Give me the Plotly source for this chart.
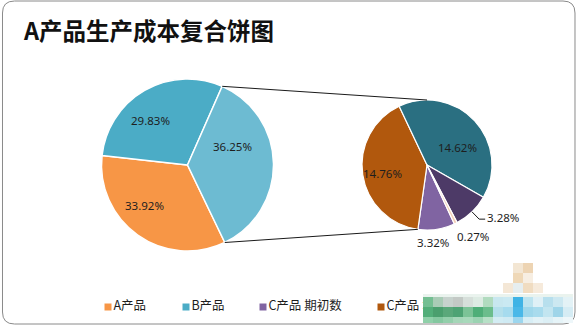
import math
import plotly.graph_objects as go

W, H = 577, 327

# ---- chart data ----
title_text = "A产品生产成本复合饼图"

main_labels = ["A产品", "B产品", "C产品"]
main_values = [33.92, 29.83, 36.25]

sub_labels = ["C产品 期初数", "C产品 本期数", "C产品 完工数", "C产品 期末数", "C产品 其他"]
sub_values = [3.32, 14.76, 14.62, 3.28, 0.27]

# ---- styling / layout ----
main_colors = ["#F79646", "#4BACC6", "#6DBBD2"]
sub_colors = ["#8064A2", "#B1580D", "#2A6F81", "#4D3A67", "#F3CDB5"]

main_c, main_r, main_rot = (187.5, 165.0), 86.0, 154.3
sub_c, sub_r, sub_rot = (427.0, 165.0), 65.0, 155.1

# data-label placement: (angle clockwise from 12 o'clock, radius fraction)
main_label_pos = [(226.7, 0.68), (320.2, 0.68), (67.3, 0.57)]
sub_label_pos = [(175.6, 1.20), (259.7, 0.69), (60.0, 0.55), (124.4, 1.42), (147.4, 1.31)]
sub_leader = [False, False, False, True, False]

FONT = "Noto Sans, Noto Sans CJK SC, sans-serif"
CJK = "Noto Sans CJK SC, Noto Sans, sans-serif"
LABEL_SIZE = 11.5


def px(x, y):
    """pixel position -> paper coordinates (margins are zero)"""
    return x / W, 1 - y / H


def domain(c, r):
    return dict(x=[(c[0] - r) / W, (c[0] + r) / W],
                y=[1 - (c[1] + r) / H, 1 - (c[1] - r) / H])


def on_circle(c, r, ang):
    a = math.radians(ang)
    return c[0] + r * math.sin(a), c[1] - r * math.cos(a)


fig = go.Figure()

fig.add_trace(go.Pie(
    labels=main_labels, values=main_values, sort=False, direction="clockwise",
    rotation=main_rot, domain=domain(main_c, main_r),
    marker=dict(colors=main_colors, line=dict(color="white", width=1.5)),
    textinfo="none", showlegend=False, hoverinfo="label+value",
))

fig.add_trace(go.Pie(
    labels=sub_labels, values=sub_values, sort=False, direction="clockwise",
    rotation=sub_rot, domain=domain(sub_c, sub_r),
    marker=dict(colors=sub_colors, line=dict(color="white", width=1.2)),
    textinfo="none", showlegend=False, hoverinfo="label+value",
))

shapes = []
annotations = []


# value labels
def add_labels(values, c, r, rot, positions, leaders):
    tot = sum(values)
    start = rot
    for v, (ang, frac), lead in zip(values, positions, leaders):
        mid = start + 180 * v / tot
        lx, ly = on_circle(c, r * frac, ang)
        ax, ay = px(lx, ly)
        annotations.append(dict(text=f"{v:.2f}%", x=ax, y=ay, xref="paper", yref="paper",
                                xanchor="center", yanchor="middle", showarrow=False,
                                font=dict(family=FONT, size=LABEL_SIZE, color="#1E1E1E")))
        if lead:
            sx, sy = on_circle(c, r, mid)
            ex, ey = lx - 18, ly + 2
            kx, ky = ex - 6, ey
            path = "M{} L{} L{}".format(*["{:.5f},{:.5f}".format(*px(a, b))
                                          for a, b in [(sx, sy), (kx, ky), (ex, ey)]])
            shapes.append(dict(type="path", xref="paper", yref="paper", path=path,
                               line=dict(color="#1A1A1A", width=1)))
        start += 360 * v / tot


add_labels(main_values, main_c, main_r, main_rot, main_label_pos, [False] * 3)
add_labels(sub_values, sub_c, sub_r, sub_rot, sub_label_pos, sub_leader)

# connector lines from the edges of the combined slice to the secondary pie
tot_main = sum(main_values)
ang_top = main_rot + 360 * sum(main_values[:-1]) / tot_main
ang_bot = main_rot
p_top = on_circle(main_c, main_r, ang_top)
p_bot = on_circle(main_c, main_r, ang_bot)
q_top = on_circle(sub_c, sub_r, 0)
q_bot = on_circle(sub_c, sub_r, sub_rot + 360 * sub_values[0] / sum(sub_values))
for a, b in [(p_top, q_top), (p_bot, q_bot)]:
    x0, y0 = px(*a)
    x1, y1 = px(*b)
    shapes.append(dict(type="line", xref="paper", yref="paper",
                       x0=x0, y0=y0, x1=x1, y1=y1,
                       line=dict(color="#1A1A1A", width=1)))

# rounded chart frame
fx0, fy0, fx1, fy1, rad = 2.5, 1.0, 575.0, 324.0, 12.0


def P(x, y):
    u, v = px(x, y)
    return f"{u:.5f},{v:.5f}"


frame_path = (f"M{P(fx0 + rad, fy0)} L{P(fx1 - rad, fy0)} Q{P(fx1, fy0)} {P(fx1, fy0 + rad)} "
              f"L{P(fx1, fy1 - rad)} Q{P(fx1, fy1)} {P(fx1 - rad, fy1)} "
              f"L{P(fx0 + rad, fy1)} Q{P(fx0, fy1)} {P(fx0, fy1 - rad)} "
              f"L{P(fx0, fy0 + rad)} Q{P(fx0, fy0)} {P(fx0 + rad, fy0)} Z")
shapes.append(dict(type="path", xref="paper", yref="paper", path=frame_path,
                   line=dict(color="#8A8A8A", width=1), layer="below"))

# title
tx, ty = px(21, 30)
annotations.append(dict(text=f"<b>{title_text}</b>", x=tx, y=ty, xref="paper", yref="paper",
                        xanchor="left", yanchor="middle", showarrow=False,
                        font=dict(family=CJK, size=23.5, color="#111111")))

# legend (first four entries) as a marker+text trace on a pixel-scaled overlay axis,
# so that the overlay shapes can sit on top of it
legend_items = [(main_labels[0], main_colors[0]), (main_labels[1], main_colors[1]),
                (sub_labels[0], sub_colors[0]), (sub_labels[1], sub_colors[1])]
legend_x = [108, 186, 263, 381]
legend_y = 307
fig.add_trace(go.Scatter(
    x=legend_x, y=[legend_y] * len(legend_x),
    mode="markers+text",
    text=[lab for lab, _ in legend_items], textposition="middle right",
    textfont=dict(family=CJK, size=12.5, color="#1E1E1E"),
    marker=dict(symbol="square", size=7, color=[col for _, col in legend_items],
                line=dict(width=0)),
    showlegend=False, hoverinfo="skip", cliponaxis=False,
))

# pixelated overlay in the lower right corner
mosaic_rows = [
    (263, 10, 513, ["#F3E6D3", "#EDD4B3"]),
    (273, 10, 513, ["#EFD8B7", "#F7EEE2"]),
    (283, 10, 503, ["#F4E7D6", "#E6EEF0", "#F0DCC1", "#F6EADB"]),
    (294, 3, 423, ["#EAF3EE"] * 15),
    (297, 10, 423, ["#74BF92", "#A9CCB6", "#C7D2CD", "#C3C9C5", "#D6DFDA", "#DDEBE3",
                    "#B1DBBF", "#C8E7EF", "#CAE9F2", "#3FB3E5", "#BCE3EF", "#DFF0F6",
                    "#B7DFED", "#CCE8F1", "#E3F2F6"]),
    (307, 10, 423, ["#52AE79", "#4A9F6E", "#5AA87A", "#4EA374", "#7CC397", "#4FAE78",
                    "#6BBD8C", "#B4DFEB", "#A6DBEE", "#4AB8E8", "#9ED7EB", "#A8DBED",
                    "#C2E5F0", "#9FD5E9", "#D5ECF4"]),
    (317, 6, 423, ["#8FD0A9", "#84C8A0", "#93CFAB", "#A5D6B8", "#A8D9BB", "#9BD3B2",
                   "#B7E0C7", "#D3ECF3", "#CFEAF3", "#9CD6EE", "#D8EEF5", "#E2F2F7",
                   "#DCEFF5", "#E6F4F8", "#EEF7FA"]),
]
for y, h, x_start, cols in mosaic_rows:
    for i, col in enumerate(cols):
        x0, y0 = px(x_start + 10 * i, y + h)
        x1, y1 = px(x_start + 10 * (i + 1), y)
        shapes.append(dict(type="rect", xref="paper", yref="paper", x0=x0, y0=y0,
                           x1=min(x1, 1), y1=y1, fillcolor=col, line=dict(width=0),
                           layer="above"))

fig.update_layout(
    width=W, height=H,
    margin=dict(l=0, r=0, t=0, b=0),
    paper_bgcolor="white", plot_bgcolor="rgba(0,0,0,0)",
    xaxis=dict(range=[0, W], domain=[0, 1], visible=False, fixedrange=True),
    yaxis=dict(range=[H, 0], domain=[0, 1], visible=False, fixedrange=True),
    shapes=shapes, annotations=annotations,
    showlegend=False,
)

fig.write_html("out.html")
